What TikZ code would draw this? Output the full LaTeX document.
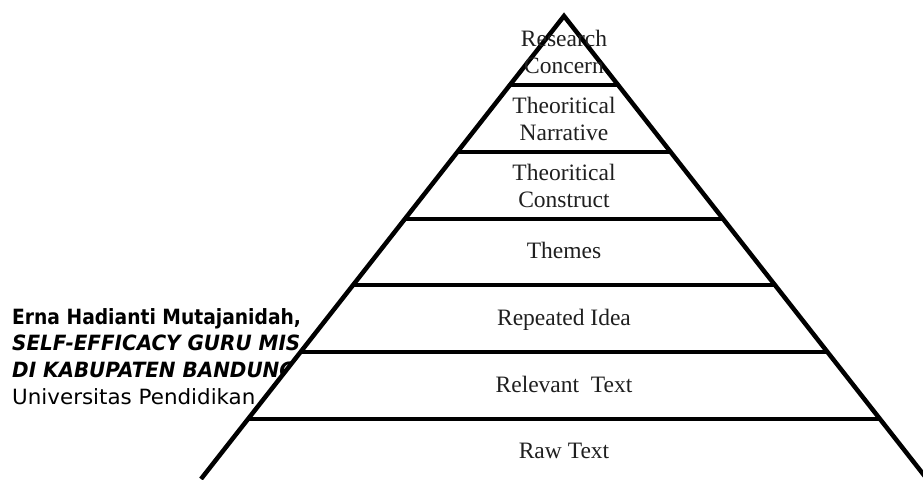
\documentclass[tikz,border=0pt]{standalone}
\usepackage{fontspec}
\usetikzlibrary{calc}
\setmainfont{Liberation Serif}
\newfontfamily\leftfont{DejaVu Sans}
\begin{document}
\begin{tikzpicture}[x=1pt,y=-1pt,
  edge/.style={line width=4.5pt, line join=miter},
  sepline/.style={line width=4pt},
  lab/.style={font=\fontsize{23.5}{27}\selectfont, align=center, inner sep=0pt, text=black!88},
  side/.style={font=\leftfont\fontsize{21}{26}\selectfont, anchor=base west, inner sep=0pt}]
\useasboundingbox (0,0) rectangle (923,479);
\clip (0,0) rectangle (923,479);
\fill[white] (0,0) rectangle (923,479);
% text on the left, partly covered by the pyramid
\node[side] (t1) at (12,324) {\scalebox{0.89}[1]{\bfseries Erna Hadianti Mutajanidah,}};
\node[side] (t2) at (12,350) {\scalebox{0.95}[1]{\bfseries\itshape SELF-EFFICACY GURU MIS}};
\node[side] (t3) at (12,377) {\scalebox{0.95}[1]{\bfseries\itshape DI KABUPATEN BANDUNG}};
\node[side] (t4) at (12,404) {\scalebox{1.02}[1]{Universitas Pendidikan}};
% pyramid
\coordinate (apex) at (564,16);
\coordinate (bl) at (201,479);
\coordinate (br) at (927,479);
\fill[white] (bl) -- (apex) -- (br) -- cycle;
\foreach \t in {0.149,0.2937,0.4384,0.581,0.7257,0.8704}{
  \draw[sepline] ($(apex)!\t!(bl)$) -- ($(apex)!\t!(br)$);
}
\draw[edge] (bl) -- (apex) -- (br);
% labels
\node[lab, anchor=north] (n1) at (564,30) {Research\\Concern};
\node[lab, anchor=north] (n2) at (564,96.5) {Theoritical\\Narrative};
\node[lab, anchor=north] (n3) at (564,163.5) {Theoritical\\Construct};
\node[lab, anchor=base] (n4) at (564,258) {Themes};
\node[lab, anchor=base] (n5) at (564,325) {Repeated Idea};
\node[lab, anchor=base] (n6) at (564,392) {Relevant\ \ Text};
\node[lab, anchor=base] (n7) at (564,458) {Raw Text};
\end{tikzpicture}
\end{document}
